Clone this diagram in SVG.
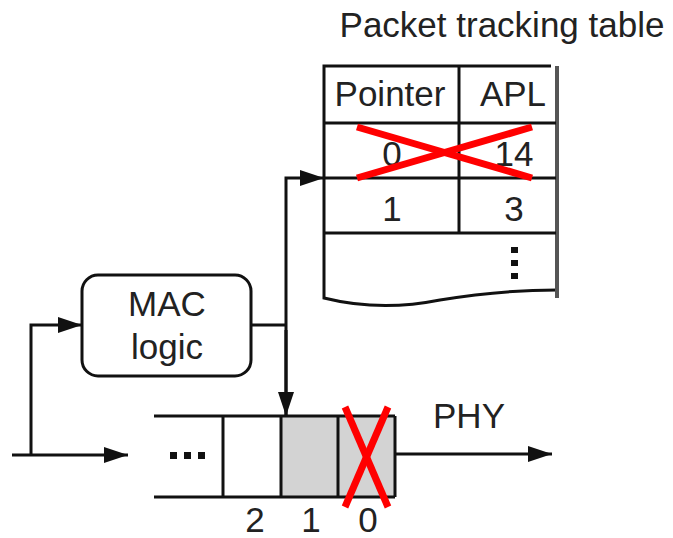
<svg xmlns="http://www.w3.org/2000/svg" width="673" height="538" viewBox="0 0 673 538">
  <style>
    text { font-family: "Liberation Sans", Arial, sans-serif; font-size: 35px; fill: #222; text-anchor: middle; }
    .ln { stroke: #111; stroke-width: 3; fill: none; }
    .x { stroke: #ff0000; stroke-width: 7; fill: none; }
  </style>
  <defs>
    <marker id="arrL" viewBox="0 0 10 10" refX="10" refY="5" markerWidth="24" markerHeight="16" markerUnits="userSpaceOnUse" orient="auto" preserveAspectRatio="none">
      <path d="M0,0 L10,5 L0,10 z" fill="#111"/>
    </marker>
  </defs>

  <!-- packet tracking table -->
  <g id="table">
    <text x="502" y="37">Packet tracking table</text>
    <path class="ln" d="M551,66 L324,66 L324,298 Q380,312 440,300 Q500,290 557,290"/>
    <line x1="557" y1="66" x2="557" y2="298" stroke="#555" stroke-width="4"/>
    <line class="ln" x1="324" y1="123" x2="556" y2="123"/>
    <line class="ln" x1="324" y1="178" x2="556" y2="178"/>
    <line class="ln" x1="324" y1="233" x2="556" y2="233"/>
    <line class="ln" x1="459" y1="66" x2="459" y2="233"/>
    <text x="390" y="106">Pointer</text>
    <text x="513" y="106">APL</text>
    <text x="392" y="166">0</text>
    <text x="514" y="166">14</text>
    <text x="392" y="221">1</text>
    <text x="514" y="221">3</text>
    <rect x="511" y="247" width="7" height="6" fill="#111"/>
    <rect x="511" y="260" width="7" height="6" fill="#111"/>
    <rect x="511" y="273" width="7" height="6" fill="#111"/>
    <line class="x" x1="357" y1="127" x2="532" y2="178"/>
    <line class="x" x1="357" y1="178" x2="532" y2="127"/>
  </g>

  <!-- MAC logic block -->
  <g id="mac">
    <rect class="ln" x="82" y="275" width="169" height="101" rx="16"/>
    <text x="167" y="316">MAC</text>
    <text x="167" y="359">logic</text>
  </g>

  <!-- transmit buffer -->
  <g id="buffer">
    <rect x="281" y="416" width="114" height="81" fill="#d3d3d3"/>
    <line class="ln" x1="154" y1="416" x2="395" y2="416"/>
    <line class="ln" x1="154" y1="497" x2="395" y2="497"/>
    <line class="ln" x1="223" y1="416" x2="223" y2="497"/>
    <line class="ln" x1="281" y1="416" x2="281" y2="497"/>
    <line class="ln" x1="338" y1="416" x2="338" y2="497"/>
    <line class="ln" x1="395" y1="416" x2="395" y2="497"/>
    <rect x="170" y="452" width="7" height="7" fill="#111"/>
    <rect x="184" y="452" width="7" height="7" fill="#111"/>
    <rect x="198" y="452" width="7" height="7" fill="#111"/>
    <text x="255" y="532">2</text>
    <text x="311" y="532">1</text>
    <text x="368" y="532">0</text>
    <line class="x" x1="345" y1="407" x2="388" y2="507"/>
    <line class="x" x1="388" y1="407" x2="345" y2="507"/>
    <text x="469" y="428">PHY</text>
  </g>

  <!-- connectors -->
  <g id="connectors">
    <line class="ln" x1="12" y1="455" x2="128" y2="455" marker-end="url(#arrL)"/>
    <polyline class="ln" points="31,455 31,325 82,325" marker-end="url(#arrL)"/>
    <line class="ln" x1="251" y1="325" x2="286" y2="325"/>
    <polyline class="ln" points="286,416 286,178 324,178" marker-end="url(#arrL)"/>
    <line class="ln" x1="286" y1="330" x2="286" y2="416" marker-end="url(#arrL)"/>
    <line class="ln" x1="395" y1="454" x2="552" y2="454" marker-end="url(#arrL)"/>
  </g>
</svg>
